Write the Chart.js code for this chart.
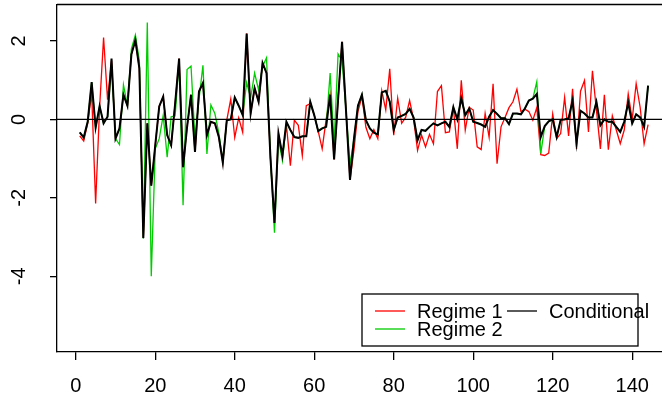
<!DOCTYPE html>
<html>
<head>
<meta charset="utf-8">
<script src="https://cdn.jsdelivr.net/npm/chart.js@4"></script>
<style>
  html, body { margin: 0; padding: 0; background: #fff; overflow: hidden; }
  #wrap { width: 662px; height: 399px; }
</style>
</head>
<body>
<div id="wrap"><canvas id="regimeChart" width="662" height="399"></canvas></div>
<script>
// time index 1..144
var t = Array.from({length: 144}, function (_, i) { return i + 1; });

var regime1 = [
  -0.42, -0.55, -0.10, 0.67, -2.14, 0.30, 2.09, 0.50, 1.50, -0.49,
  -0.23, 0.63, 0.35, 1.66, 2.02, 1.30, -3.02, -0.10, -1.69, -0.66,
  0.33, 0.58, -0.40, -0.66, 0.40, 1.55, -1.22, -0.20, 0.63, -0.83,
  0.71, 0.93, -0.40, -0.06, -0.10, -0.45, -1.10, -0.02, 0.52, -0.46,
  0.04, -0.33, 2.19, 0.15, 0.80, 0.45, 1.44, 1.18, -1.00, -2.64,
  -0.36, -0.92, -0.15, -1.18, -0.02, -0.15, -0.92, 0.35, 0.40, 0.11,
  -0.30, -0.75, 0.00, 0.63, -1.02, 0.50, 1.98, 0.22, -1.54, -0.78,
  0.20, 0.58, -0.20, -0.49, -0.26, -0.49, 0.73, 0.24, 1.29, -0.40,
  0.54, -0.10, 0.05, 0.48, 0.00, -0.79, -0.40, -0.70, -0.38, -0.62,
  0.71, 0.86, -0.34, -0.32, 0.30, -0.75, 1.00, -0.27, 0.31, 0.24,
  -0.70, -0.77, 0.15, -0.45, 0.91, -1.13, -0.19, 0.05, 0.30, 0.45,
  0.77, 0.20, 0.26, 0.20, -0.02, 0.30, -0.90, -0.92, -0.86, 0.14,
  -0.49, -0.36, 0.56, -0.42, 0.78, -0.75, 0.72, 0.99, -0.32, 1.24,
  0.24, -0.75, 0.63, -0.77, 0.09, -0.27, -0.62, -0.27, 0.65, 0.00,
  0.91, 0.31, -0.62, -0.13
];

var regime2 = [
  -0.33, -0.46, -0.06, 0.95, -0.21, 0.34, -0.10, 0.07, 1.40, -0.49,
  -0.64, 0.88, 0.35, 1.80, 2.15, 1.50, -3.04, 2.47, -4.00, -0.75,
  -0.49, 0.10, -0.96, 0.07, 0.09, 1.45, -2.19, 1.27, 1.36, -0.50,
  0.50, 1.38, -0.88, 0.37, 0.15, -0.35, -1.05, -0.02, 0.00, 0.56,
  0.35, 0.11, 0.94, 0.55, 1.18, 0.75, 1.35, 1.57, -1.00, -2.89,
  -0.50, -1.05, -0.06, -0.27, -0.45, -0.47, -0.43, -0.43, 0.45, 0.11,
  -0.30, -0.23, -0.19, 1.18, -0.60, 1.67, 1.50, 0.22, -1.15, -0.49,
  0.35, 0.63, -0.02, -0.23, -0.34, -0.38, 0.69, 0.73, 0.45, -0.27,
  0.05, 0.09, 0.14, 0.27, 0.05, -0.53, -0.27, -0.29, -0.19, -0.10,
  -0.15, -0.10, -0.06, -0.19, 0.31, 0.00, 0.54, 0.11, 0.28, -0.06,
  -0.09, -0.13, -0.19, 0.07, 0.24, 0.14, 0.03, 0.03, -0.12, 0.15,
  0.15, 0.13, 0.28, 0.48, 0.53, 0.96, -0.87, -0.17, -0.05, 0.00,
  -0.45, -0.01, 0.00, 0.03, 0.48, -0.60, 0.22, 0.15, 0.05, 0.05,
  0.45, -0.15, 0.00, -0.06, -0.06, -0.19, -0.32, -0.06, 0.43, -0.10,
  0.13, 0.05, -0.19, 0.86
];

var conditional = [
  -0.33, -0.46, -0.06, 0.95, -0.21, 0.34, -0.10, 0.07, 1.55, -0.49,
  -0.23, 0.63, 0.35, 1.66, 2.02, 1.30, -3.02, -0.10, -1.69, -0.66,
  0.33, 0.58, -0.40, -0.66, 0.40, 1.55, -1.22, -0.20, 0.63, -0.83,
  0.71, 0.93, -0.40, -0.06, -0.10, -0.45, -1.10, -0.02, 0.00, 0.56,
  0.35, 0.11, 2.19, 0.15, 0.80, 0.45, 1.44, 1.18, -1.00, -2.64,
  -0.36, -0.92, -0.06, -0.27, -0.45, -0.47, -0.43, -0.43, 0.45, 0.11,
  -0.30, -0.23, -0.19, 0.63, -1.02, 0.50, 1.98, 0.22, -1.54, -0.49,
  0.35, 0.63, -0.02, -0.23, -0.34, -0.38, 0.69, 0.73, 0.45, -0.27,
  0.05, 0.09, 0.14, 0.27, 0.05, -0.53, -0.27, -0.29, -0.19, -0.10,
  -0.15, -0.10, -0.06, -0.19, 0.31, 0.00, 0.54, 0.11, 0.28, -0.06,
  -0.09, -0.13, -0.19, 0.07, 0.24, 0.14, 0.03, 0.03, -0.12, 0.15,
  0.15, 0.13, 0.28, 0.48, 0.53, 0.65, -0.45, -0.17, -0.05, 0.00,
  -0.45, -0.01, 0.00, 0.03, 0.48, -0.60, 0.22, 0.15, 0.05, 0.05,
  0.45, -0.15, 0.00, -0.06, -0.06, -0.19, -0.32, -0.06, 0.43, -0.10,
  0.13, 0.05, -0.19, 0.86
];

var xTicks = [0, 20, 40, 60, 80, 100, 120, 140];
var yTicks = [-4, -2, 0, 2];
var refLevel = 0;

var FONT = '"Liberation Sans", Arial, sans-serif';
var FONT_SIZE = 20;

// horizontal reference line + top frame edge
var framePlugin = {
  id: 'frame',
  afterDatasetsDraw: function (chart) {
    var ctx = chart.ctx, a = chart.chartArea;
    var y0 = chart.scales.y.getPixelForValue(refLevel);
    ctx.save();
    ctx.strokeStyle = '#000';
    ctx.lineWidth = 1.3;
    ctx.beginPath();
    ctx.moveTo(a.left, y0);
    ctx.lineTo(a.right, y0);
    ctx.moveTo(a.left, a.top);
    ctx.lineTo(a.right, a.top);
    ctx.stroke();
    ctx.restore();
  }
};

// boxed legend, two columns like base R
var legendPlugin = {
  id: 'boxLegend',
  afterDraw: function (chart) {
    var ctx = chart.ctx;
    var ds = chart.data.datasets;
    var box = {x: 362, y: 294, w: 276, h: 52};
    var slots = [
      {x: box.x + 13, y: box.y + 17},
      {x: box.x + 13, y: box.y + 35},
      {x: box.x + 145, y: box.y + 17}
    ];
    ctx.save();
    ctx.fillStyle = '#fff';
    ctx.fillRect(box.x, box.y, box.w, box.h);
    ctx.strokeStyle = '#000';
    ctx.lineWidth = 1.3;
    ctx.strokeRect(box.x, box.y, box.w, box.h);
    ctx.font = FONT_SIZE + 'px ' + FONT;
    ctx.textBaseline = 'middle';
    ctx.textAlign = 'left';
    ds.forEach(function (d, i) {
      var s = slots[i];
      ctx.strokeStyle = d.borderColor;
      ctx.lineWidth = 1.3;
      ctx.beginPath();
      ctx.moveTo(s.x, s.y);
      ctx.lineTo(s.x + 30, s.y);
      ctx.stroke();
      ctx.fillStyle = '#000';
      ctx.fillText(d.label, s.x + 42, s.y + 1);
    });
    ctx.restore();
  }
};

new Chart(document.getElementById('regimeChart'), {
  type: 'line',
  data: {
    labels: t,
    datasets: [
      {label: 'Regime 1', data: regime1, borderColor: '#ff0000', borderWidth: 1.3, order: 3},
      {label: 'Regime 2', data: regime2, borderColor: '#00cd00', borderWidth: 1.3, order: 2},
      {label: 'Conditional', data: conditional, borderColor: '#000000', borderWidth: 2, order: 1}
    ]
  },
  options: {
    responsive: false,
    animation: false,
    devicePixelRatio: 1,
    layout: {padding: {top: 4.5, left: 0, right: 0, bottom: 0}},
    elements: {
      point: {radius: 0},
      line: {tension: 0}
    },
    plugins: {
      legend: {display: false},
      tooltip: {enabled: false}
    },
    scales: {
      x: {
        type: 'linear',
        min: -4.72,
        max: 147.5,
        afterBuildTicks: function (s) { s.ticks = xTicks.map(function (v) { return {value: v}; }); },
        afterFit: function (s) { s.height = 47; s.paddingLeft = 0; s.paddingRight = 0; },
        grid: {drawOnChartArea: false, tickColor: '#000', tickLength: 8, lineWidth: 1.3},
        border: {color: '#000', width: 1.3},
        ticks: {padding: 14, maxRotation: 0, color: '#000', font: {family: FONT, size: FONT_SIZE}}
      },
      y: {
        type: 'linear',
        min: -5.93,
        max: 2.93,
        afterBuildTicks: function (s) { s.ticks = yTicks.map(function (v) { return {value: v}; }); },
        afterFit: function (s) { s.width = 57; s.paddingTop = 0; s.paddingBottom = 0; },
        grid: {drawOnChartArea: false, tickColor: '#000', tickLength: 7, lineWidth: 1.3},
        border: {color: '#000', width: 1.3},
        ticks: {minRotation: 90, maxRotation: 90, crossAlign: 'center', padding: 22,
                color: '#000', font: {family: FONT, size: FONT_SIZE}}
      }
    }
  },
  plugins: [framePlugin, legendPlugin]
});
</script>
</body>
</html>
